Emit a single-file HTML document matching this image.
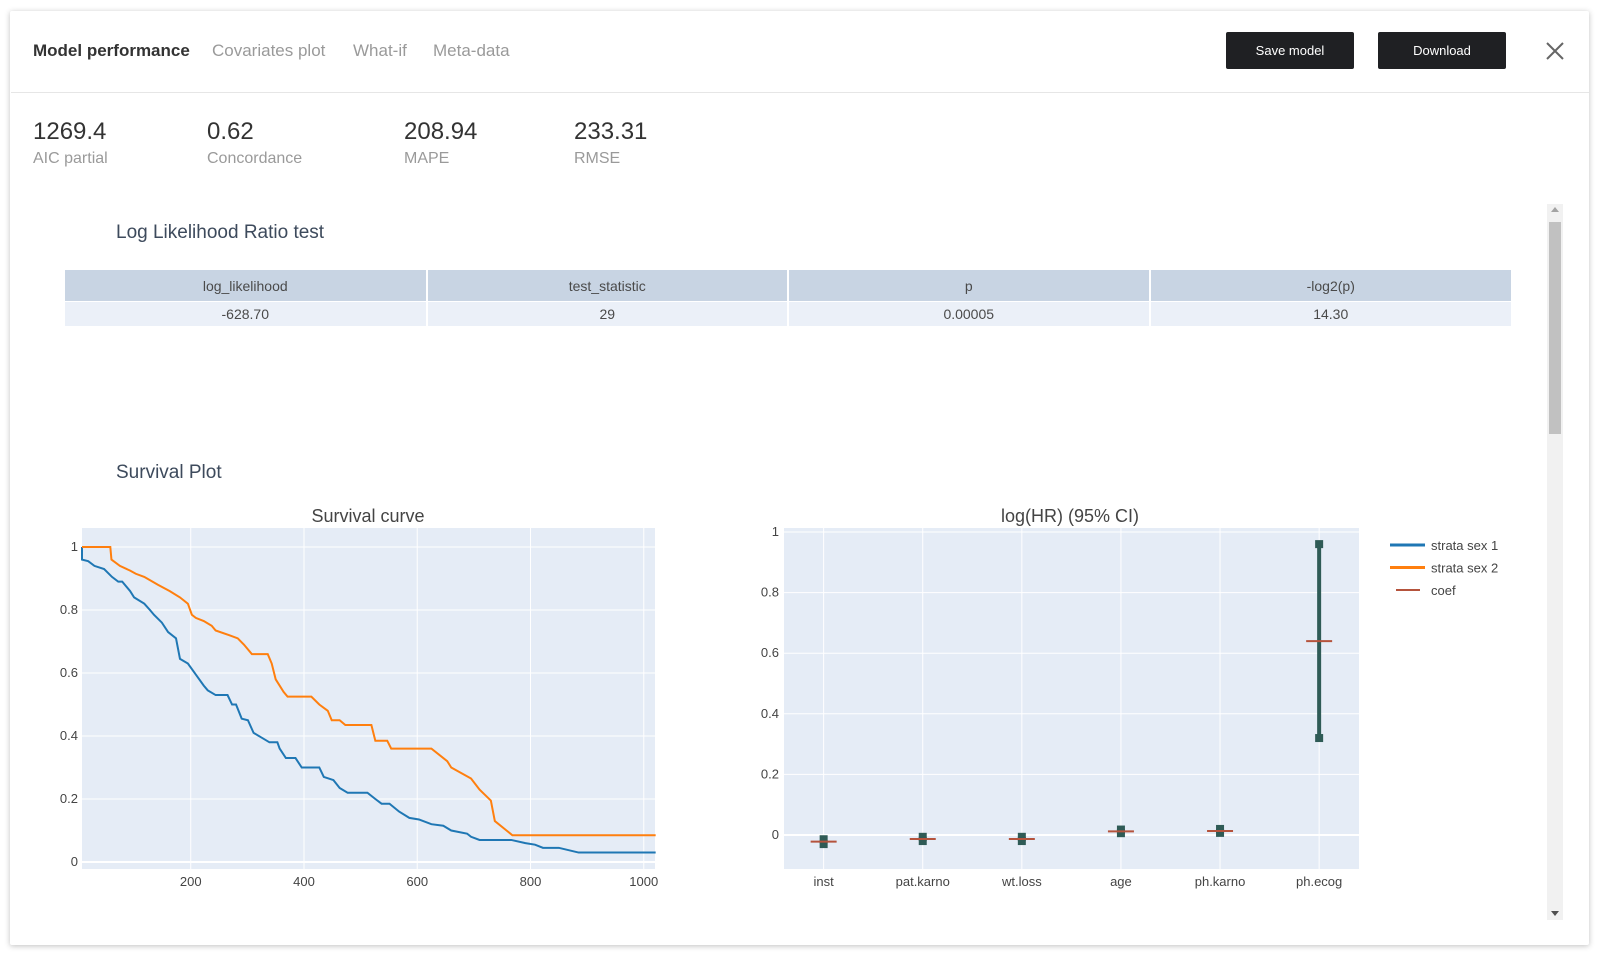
<!DOCTYPE html>
<html><head><meta charset="utf-8">
<style>
body{margin:0;width:1600px;height:955px;background:#fff;font-family:"Liberation Sans",sans-serif;overflow:hidden;position:relative}
.card{position:absolute;left:10px;top:11px;width:1579px;height:934px;background:#fff;box-shadow:0 1px 6px rgba(0,0,0,.25);border-radius:2px}
.abs{position:absolute;white-space:nowrap}
.tab{font-size:17px;color:#9a9a9a;top:41px}
.btn{position:absolute;top:32px;height:37px;width:128px;background:#1f2023;color:#fff;font-size:13px;border-radius:2px;display:flex;align-items:center;justify-content:center}
.val{font-size:24px;color:#333;top:118px}
.lbl{font-size:16px;color:#9a9a9a;top:150px}
.sec{font-size:19px;color:#3d4a5c}
table{position:absolute;left:65px;top:270px;width:1446px;border-collapse:collapse;font-size:14px;color:#4a4a4a;table-layout:fixed}
th{background:#c8d4e3;font-weight:normal;height:31px;border-right:2px solid #fff;padding:0}
td{background:#ebf0f8;height:24px;text-align:center;border-right:2px solid #fff;border-top:1px solid #fff;padding:0}
</style></head><body>
<div class="card"></div>
<div class="abs tab" style="left:33px;color:#333;font-weight:bold">Model performance</div>
<div class="abs tab" style="left:212px">Covariates plot</div>
<div class="abs tab" style="left:353px">What-if</div>
<div class="abs tab" style="left:433px">Meta-data</div>
<div class="btn" style="left:1226px">Save model</div>
<div class="btn" style="left:1378px">Download</div>
<svg class="abs" style="left:1545px;top:41px" width="20" height="20"><path d="M2 2L18 18M18 2L2 18" stroke="#666" stroke-width="2"/></svg>
<div class="abs" style="left:11px;top:92px;width:1578px;height:1px;background:#e6e6e6"></div>

<div class="abs val" style="left:33px">1269.4</div>
<div class="abs lbl" style="left:33px">AIC partial</div>
<div class="abs val" style="left:207px">0.62</div>
<div class="abs lbl" style="left:207px">Concordance</div>
<div class="abs val" style="left:404px">208.94</div>
<div class="abs lbl" style="left:404px">MAPE</div>
<div class="abs val" style="left:574px">233.31</div>
<div class="abs lbl" style="left:574px">RMSE</div>

<div class="abs sec" style="left:116px;top:222px">Log Likelihood Ratio test</div>
<table>
<tr><th>log_likelihood</th><th>test_statistic</th><th>p</th><th style="border-right:none">-log2(p)</th></tr>
<tr><td>-628.70</td><td>29</td><td>0.00005</td><td style="border-right:none">14.30</td></tr>
</table>

<div class="abs" style="left:1547px;top:204px;width:16px;height:716px;background:#f1f1f1">
<div style="position:absolute;left:2px;top:18px;width:12px;height:212px;background:#c1c1c1"></div>
<div style="position:absolute;left:4px;top:3px;border:4px solid transparent;border-bottom:5px solid #a3a3a3;border-top:none"></div>
<div style="position:absolute;left:4px;bottom:4px;border:4px solid transparent;border-top:5px solid #505050;border-bottom:none"></div>
</div>

<div class="abs sec" style="left:116px;top:462px">Survival Plot</div>
<svg id="chart" class="abs" style="left:0;top:0" width="1600" height="955"></svg>

<script>
const sTimes1=[0,8,19,30,47,61,72,79,93,100,118,128,135,149,160,174,181,195,209,223,230,244,265,273,280,290,301,311,325,339,353,357,368,385,396,427,435,452,463,477,512,526,537,551,568,586,603,625,646,660,688,695,710,766,791,808,822,850,885,1021];
const sSurv1=[1,0.96,0.955,0.94,0.93,0.905,0.89,0.89,0.86,0.84,0.82,0.8,0.785,0.76,0.73,0.71,0.645,0.63,0.595,0.56,0.545,0.53,0.53,0.5,0.5,0.455,0.45,0.41,0.395,0.38,0.38,0.36,0.33,0.33,0.3,0.3,0.27,0.26,0.235,0.22,0.22,0.2,0.185,0.185,0.16,0.14,0.135,0.12,0.115,0.1,0.09,0.08,0.07,0.07,0.06,0.055,0.045,0.045,0.03,0.03];
const sTimes2=[0,58,60,75,93,103,118,142,163,181,195,202,209,223,237,244,268,283,294,308,336,343,350,364,371,413,427,442,449,463,473,519,526,547,554,625,653,660,695,710,730,737,768,1021];
const sSurv2=[1,1,0.96,0.94,0.925,0.915,0.905,0.88,0.86,0.84,0.82,0.785,0.775,0.765,0.75,0.735,0.72,0.71,0.69,0.66,0.66,0.63,0.58,0.54,0.525,0.525,0.5,0.48,0.45,0.45,0.435,0.435,0.385,0.385,0.36,0.36,0.32,0.3,0.265,0.23,0.195,0.13,0.085,0.085];
const sXTicks=[200,400,600,800,1000];
const sYTicks=[0,0.2,0.4,0.6,0.8,1];
const hrCats=["inst","pat.karno","wt.loss","age","ph.karno","ph.ecog"];
const hrCoef=[-0.022,-0.013,-0.013,0.012,0.013,0.64];
const hrLow=[-0.03,-0.02,-0.02,0.006,0.007,0.32];
const hrHigh=[-0.014,-0.006,-0.006,0.018,0.02,0.96];
const hrYTicks=[0,0.2,0.4,0.6,0.8,1];

const NS="http://www.w3.org/2000/svg";
const svg=document.getElementById('chart');
function mk(tag,attrs,parent){const e=document.createElementNS(NS,tag);for(const k in attrs)e.setAttribute(k,attrs[k]);(parent||svg).appendChild(e);return e;}
const grid="#ffffff", bg="#e5ecf6", tc="#444";

const sx=t=>82+(t-8)*0.5663, sy=s=>862-s*315;
let r=mk('rect',{x:82,y:528,width:573,height:341,fill:bg});


sXTicks.forEach(v=>{
  let l=mk('line',{x1:sx(v),x2:sx(v),y1:528,y2:869,stroke:grid,'stroke-width':1});
  
  
  let t=mk('text',{x:sx(v),y:886,'text-anchor':'middle','font-size':13,fill:tc});t.textContent=v;
  
  
});
sYTicks.forEach(v=>{
  let l=mk('line',{x1:82,x2:655,y1:sy(v),y2:sy(v),stroke:grid,'stroke-width':v===0?2:1});
  
  
  let t=mk('text',{x:78,y:sy(v)+4,'text-anchor':'end','font-size':13,fill:tc});t.textContent=v;
  
  
});
let p1=mk('polyline',{points:sTimes1.map((t,i)=>sx(Math.max(t,8))+','+sy(sSurv1[i])).join(' '),fill:'none',stroke:'#1f77b4','stroke-width':2});


let p2=mk('polyline',{points:sTimes2.map((t,i)=>sx(Math.max(t,8))+','+sy(sSurv2[i])).join(' '),fill:'none',stroke:'#ff7f0e','stroke-width':2});


let st=mk('text',{x:368,y:522,'text-anchor':'middle','font-size':18,fill:tc});st.textContent="Survival curve";



const hx=i=>784+(i+0.4)*99.1, hy=v=>835-v*303;
let r2=mk('rect',{x:784,y:528,width:575,height:341,fill:bg});


hrCats.forEach((c,i)=>{
  let l=mk('line',{x1:hx(i),x2:hx(i),y1:528,y2:869,stroke:grid,'stroke-width':1});
  
  
  let t=mk('text',{x:hx(i),y:886,'text-anchor':'middle','font-size':13,fill:tc});t.textContent=c;
  
  
});
hrYTicks.forEach(v=>{
  let l=mk('line',{x1:784,x2:1359,y1:hy(v),y2:hy(v),stroke:grid,'stroke-width':v===0?2:1});
  
  
  let t=mk('text',{x:779,y:hy(v)+4,'text-anchor':'end','font-size':13,fill:tc});t.textContent=v;
  
  
});
hrCats.forEach((c,i)=>{
  let b=mk('line',{x1:hx(i),x2:hx(i),y1:hy(hrLow[i]),y2:hy(hrHigh[i]),stroke:'#2f5b56','stroke-width':4});
  
  
  [hrLow[i],hrHigh[i]].forEach(v=>{
    let m=mk('rect',{x:hx(i)-4,y:hy(v)-4,width:8,height:8,fill:'#2f5b56'});
    
    
  });
  let cf=mk('line',{x1:hx(i)-13,x2:hx(i)+13,y1:hy(hrCoef[i]),y2:hy(hrCoef[i]),stroke:'#b5533c','stroke-width':2});
  
  
});
let ht=mk('text',{x:1070,y:522,'text-anchor':'middle','font-size':18,fill:tc});ht.textContent="log(HR) (95% CI)";



const legNames=["strata sex 1","strata sex 2","coef"];
const legColors=["#1f77b4","#ff7f0e","#b5533c"];
legNames.forEach((n,i)=>{
  const y=545+i*22.5;
  let l=mk('line',{x1:i===2?1396:1390,x2:i===2?1420:1425,y1:y,y2:y,stroke:legColors[i],'stroke-width':i===2?2:3});
  
  
  let t=mk('text',{x:1431,y:y+5,'font-size':13,fill:tc});t.textContent=n;
  
  
});
</script>
</body></html>
